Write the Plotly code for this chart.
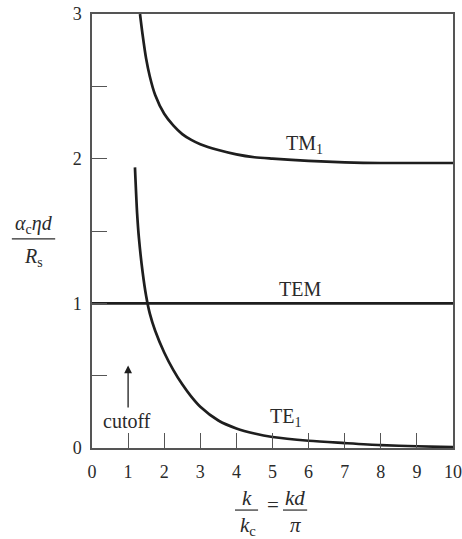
import plotly.graph_objects as go

# Values
tm1_x = [1.33, 1.40, 1.50, 1.60, 1.75, 2.00, 2.25, 2.50, 2.75, 3.00, 3.50, 4.00, 4.50, 5.00, 6.00, 7.00, 8.00, 10.0]
tm1_y = [3.00, 2.86, 2.69, 2.57, 2.44, 2.31, 2.23, 2.17, 2.13, 2.10, 2.06, 2.03, 2.01, 2.00, 1.985, 1.975, 1.97, 1.97]

tem_x = [0.0, 10.0]
tem_y = [1.0, 1.0]

te1_x = [1.19, 1.25, 1.30, 1.40, 1.50, 1.60, 1.75, 2.00, 2.25, 2.50, 2.75, 3.00, 3.50, 4.00, 4.50, 5.00, 6.00, 7.00, 8.00, 9.00, 10.0]
te1_y = [1.94, 1.62, 1.45, 1.22, 1.05, 0.93, 0.81, 0.66, 0.54, 0.44, 0.355, 0.285, 0.19, 0.135, 0.10, 0.076, 0.05, 0.034, 0.02, 0.012, 0.006]

x_ticks = [0, 1, 2, 3, 4, 5, 6, 7, 8, 9, 10]
y_ticks = [0, 0.5, 1, 1.5, 2, 2.5, 3]
y_ticktext = ["0", "", "1", "", "2", "", "3"]

FONT = "Liberation Serif"
TXT = "#2a2a2a"
LINE = "#1e1e1e"

fig = go.Figure()
for xs, ys in [(tm1_x, tm1_y), (tem_x, tem_y), (te1_x, te1_y)]:
    fig.add_trace(go.Scatter(x=xs, y=ys, mode="lines",
                             line=dict(color=LINE, width=2.7, shape="spline", smoothing=0.8),
                             showlegend=False, hoverinfo="skip"))

axis_common = dict(showgrid=False, zeroline=False, showline=True, linecolor="#555555",
                   linewidth=1.5, mirror=True, ticks="inside", ticklen=15, tickwidth=1.2,
                   tickcolor="#555555", tickfont=dict(family=FONT, size=18, color=TXT),
                   ticklabeloverflow="allow", automargin=False)

fig.update_xaxes(range=[0, 10], tickvals=x_ticks, ticktext=[str(v) for v in x_ticks],
                 ticklabelstandoff=7, **axis_common)
fig.update_yaxes(range=[0, 3], tickvals=y_ticks, ticktext=y_ticktext,
                 ticklabelstandoff=5, **axis_common)

ann = []
def txt(x, y, text, xref="x", yref="y", size=20):
    ann.append(dict(x=x, y=y, xref=xref, yref=yref, text=text, showarrow=False,
                    font=dict(family=FONT, size=size, color=TXT), xanchor="center", yanchor="middle"))

txt(5.9, 2.1, "TM<sub>1</sub>")
txt(5.75, 1.1, "TEM")
txt(5.35, 0.21, "TE<sub>1</sub>")
txt(0.97, 0.19, "cutoff")

# y-axis title as a fraction
txt(-0.161, 0.514, "<i>α</i><sub>c</sub><i>ηd</i>", "paper", "paper", 20)
txt(-0.161, 0.438, "<i>R</i><sub>s</sub>", "paper", "paper", 20)
# x-axis title as fractions
txt(0.429, -0.115, "<i>k</i>", "paper", "paper", 21)
txt(0.432, -0.18, "<i>k</i><sub>c</sub>", "paper", "paper", 21)
txt(0.501, -0.132, "=", "paper", "paper", 21)
txt(0.562, -0.115, "<i>kd</i>", "paper", "paper", 21)
txt(0.565, -0.177, "<i>π</i>", "paper", "paper", 21)

ann.append(dict(x=1.0, y=0.57, ax=1.0, ay=0.27, xref="x", yref="y", axref="x", ayref="y",
                showarrow=True, arrowhead=2, arrowsize=1.2, arrowwidth=1.3, arrowcolor=LINE, text=""))

shapes = [
    dict(type="line", xref="paper", yref="paper", x0=-0.222, x1=-0.102, y0=0.482, y1=0.482,
         line=dict(color=TXT, width=1.2)),
    dict(type="line", xref="paper", yref="paper", x0=0.396, x1=0.46, y0=-0.143, y1=-0.143,
         line=dict(color=TXT, width=1.2)),
    dict(type="line", xref="paper", yref="paper", x0=0.529, x1=0.596, y0=-0.143, y1=-0.143,
         line=dict(color=TXT, width=1.2)),
]

fig.update_layout(width=462, height=539, margin=dict(l=92, r=9, t=14, b=91, autoexpand=False),
                  paper_bgcolor="white", plot_bgcolor="white",
                  annotations=ann, shapes=shapes)

fig.write_html("out.html", config={"displayModeBar": False},
               post_script="document.body.style.margin='0';document.body.style.overflow='hidden';")
